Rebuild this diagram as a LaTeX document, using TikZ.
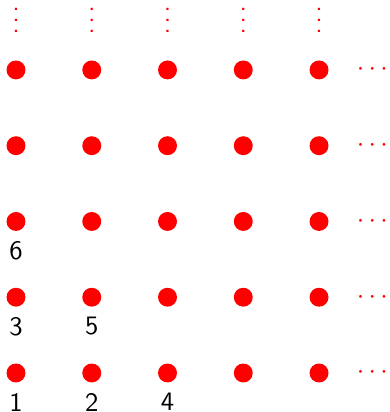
\documentclass[tikz,border=0pt]{standalone}
\usetikzlibrary{positioning}

\begin{document}
\begin{tikzpicture}[
  every node/.style={font=\sffamily},
  lattice/.style={circle,fill=red,inner sep=0pt,minimum size=2.5mm},
  more/.style={text=red,inner sep=0pt}
]
\useasboundingbox (-0.211,-0.515) rectangle (4.934,4.923);

% ------------------------------------------------------------
% The lattice points (5 x 5 shown)
% ------------------------------------------------------------
\foreach \i in {0,...,4}{
  \foreach \j in {0,...,4}{
    \node[lattice] (p\i\j) at (\i,\j) {};
  }
}

% ------------------------------------------------------------
% Numbered points
% ------------------------------------------------------------
\node[label={[label distance=0.5pt]below:1}] at (p00) {};
\node[label={[label distance=0.5pt]below:2}] at (p10) {};
\node[label={[label distance=0.5pt]below:4}] at (p20) {};
\node[label={[label distance=0.5pt]below:3}] at (p01) {};
\node[label={[label distance=0.5pt]below:5}] at (p11) {};
\node[label={[label distance=0.5pt]below:6}] at (p02) {};

% ------------------------------------------------------------
% The lattice goes on upwards and to the right
% ------------------------------------------------------------
\foreach \i in {0,...,4}
  \node[more, above=0.36cm of p\i4] (up\i) {$\vdots$};
\foreach \j in {0,...,4}
  \node[more, right=0.36cm of p4\j] (right\j) {$\cdots$};

\end{tikzpicture}
\end{document}
